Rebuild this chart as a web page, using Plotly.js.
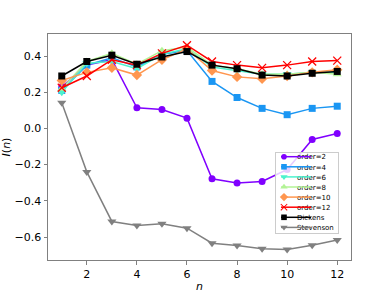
<!DOCTYPE html>
<html><head><meta charset="utf-8">
<script src="https://cdn.plot.ly/plotly-3.0.1.min.js"></script>
<style>html,body{margin:0;padding:0;background:#fff}</style>
</head><body><div id="chart" style="width:390px;height:293px"></div>
<script>
const n = [1,2,3,4,5,6,7,8,9,10,11,12];
const order2  = [0.23,0.35,0.38,0.114,0.105,0.057,-0.278,-0.302,-0.293,-0.227,-0.061,-0.028];
const order4  = [0.21,0.35,0.39,0.34,0.41,0.43,0.26,0.171,0.111,0.076,0.111,0.123];
const order6  = [0.20,0.36,0.37,0.33,0.41,0.44,0.34,0.32,0.30,0.30,0.31,0.31];
const order8  = [0.22,0.37,0.415,0.355,0.43,0.45,0.35,0.33,0.30,0.30,0.31,0.30];
const order10 = [0.265,0.31,0.335,0.295,0.38,0.44,0.32,0.285,0.275,0.29,0.31,0.325];
const order12 = [0.225,0.29,0.38,0.35,0.415,0.46,0.37,0.35,0.335,0.35,0.37,0.375];
const dickens = [0.29,0.37,0.405,0.355,0.395,0.425,0.35,0.33,0.295,0.29,0.305,0.315];
const stevenson = [0.142,-0.24,-0.514,-0.536,-0.527,-0.551,-0.634,-0.647,-0.665,-0.669,-0.645,-0.617];
const names = ['order=2','order=4','order=6','order=8','order=10','order=12','Dickens','Stevenson'];
const series = [order2,order4,order6,order8,order10,order12,dickens,stevenson];
const colors = ['#8000ff','#1a96f3','#4cf2ce','#b3f396','#ff964f','#ff0000','#000000','#808080'];
const symbols = ['circle','square','triangle-down','triangle-up','diamond','x-thin-open','square','triangle-down'];
const sizes = [7,7,8,8,8,8,7,8];
const traces = series.map((y,i)=>({
  x: n, y: y, name: names[i], type:'scatter', mode:'lines+markers',
  line:{color:colors[i], width:1.5},
  marker:{symbol:symbols[i], size:sizes[i], color:colors[i], line:{color:colors[i], width: symbols[i]==='x-thin-open'?1.3:0}}
}));
const layout = {
  width:390, height:293,
  margin:{l:48,r:39,t:34,b:33},
  paper_bgcolor:'#fff', plot_bgcolor:'#fff',
  font:{family:'DejaVu Sans', size:11, color:'#000'},
  showlegend:true,
  legend:{x:0.749, y:1, xanchor:'left', yanchor:'top', font:{size:7}, bgcolor:'rgba(255,255,255,0.8)', bordercolor:'#cccccc', borderwidth:1, tracegroupgap:0, itemwidth:30},
  xaxis:{range:[0.45,12.55], tickvals:[2,4,6,8,10,12], showgrid:false, zeroline:false, showline:true, mirror:true, linecolor:'#808080', linewidth:1, ticks:'outside', ticklen:3.5, tickcolor:'#808080',
    title:{text:'<i>n</i>', font:{size:11}, standoff:7}},
  yaxis:{range:[-0.727,0.522], tickvals:[-0.6,-0.4,-0.2,0,0.2,0.4], ticktext:['\u22120.6','\u22120.4','\u22120.2','0.0','0.2','0.4'], showgrid:false, zeroline:false, showline:true, mirror:true, linecolor:'#808080', linewidth:1, ticks:'outside', ticklen:3.5, tickcolor:'#808080',
    title:{text:'<i>I</i>(<i>n</i>)', font:{size:11}, standoff:5}}
};
Plotly.newPlot('chart', traces, layout, {displayModeBar:false, staticPlot:true}).then(gd=>{
  const leg = gd.querySelector('g.legend');
  if(!leg) return;
  const items = leg.querySelectorAll('g.traces');
  const step = 10.1;
  let maxW = 0;
  items.forEach((g,i)=>{
    const m = /translate\(\s*([-\d.e]+)/.exec(g.getAttribute('transform')||'');
    const tx = m ? parseFloat(m[1]) : 0;
    g.setAttribute('transform', `translate(${tx},${4.7+i*step})`);
    g.querySelectorAll('path.legendlines').forEach(p=>p.setAttribute('d','M0,0h16'));
    g.querySelectorAll('path.scatterpts').forEach(p=>p.setAttribute('transform','translate(8,0) scale(0.8)'));
    const t = g.querySelector('text.legendtext');
    if(t){
      t.setAttribute('x', 21);
      t.querySelectorAll('tspan[x]').forEach(s=>s.setAttribute('x',21));
      maxW = Math.max(maxW, t.getComputedTextLength());
    }
  });
  const bg = leg.querySelector('rect.bg');
  if(bg){ bg.setAttribute('height', items.length*step+0.5); bg.setAttribute('width', 22+maxW+4); }
  leg.setAttribute('transform','translate(275,152)');
});
</script></body></html>
